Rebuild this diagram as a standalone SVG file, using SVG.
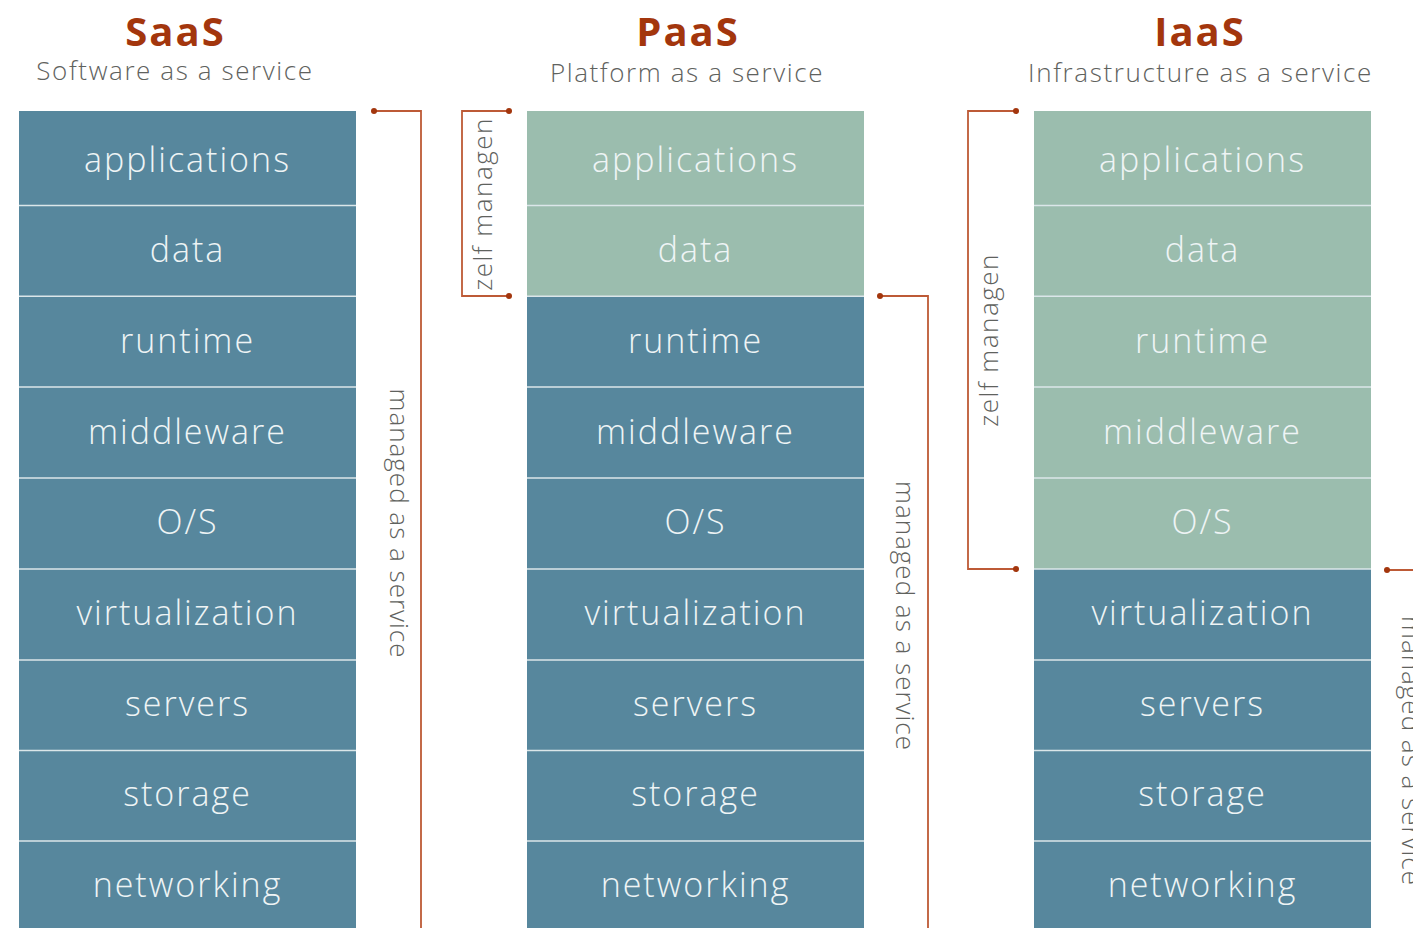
<svg xmlns="http://www.w3.org/2000/svg" width="1413" height="928" viewBox="0 0 1413 928">
  <style>
    .title { font-family: "Open Sans", "Noto Sans", sans-serif; font-weight: 700; font-size: 40px; fill: #a3360d; text-anchor: middle; letter-spacing: 2px; }
    .sub { font-family: "Open Sans", "Noto Sans", sans-serif; font-weight: 300; font-size: 26px; fill: #5f625e; text-anchor: middle; letter-spacing: 1.6px; }
    .cell rect { stroke: none; }
    .blue { fill: #57879d; }
    .green { fill: #9bbdae; }
    .lbl { font-family: "Open Sans", "Noto Sans", sans-serif; font-weight: 300; font-size: 34px; fill: #eef4f5; text-anchor: middle; letter-spacing: 2px; }
    .sep { stroke: #dbe6e9; stroke-width: 1.6; }
    .side { font-family: "Open Sans", "Noto Sans", sans-serif; font-weight: 300; font-size: 26px; fill: #5f625e; text-anchor: middle; letter-spacing: 1px; }
    .side.z { letter-spacing: 1.5px; }
    .brk { fill: none; stroke: #bd5a36; stroke-width: 1.8; }
    .dot { fill: #a3360d; }
  </style>

  <!-- column headers -->
  <g id="head-saas">
    <text class="title" x="175.5" y="46">SaaS</text>
    <text class="sub" x="175" y="80">Software as a service</text>
  </g>
  <g id="head-paas">
    <text class="title" x="688" y="46">PaaS</text>
    <text class="sub" x="687" y="82">Platform as a service</text>
  </g>
  <g id="head-iaas">
    <text class="title" x="1200" y="46">IaaS</text>
    <text class="sub" x="1200.5" y="82">Infrastructure as a service</text>
  </g>

  <!-- SaaS stack -->
  <g id="saas">
    <g id="saas-applications" class="cell"><rect class="blue" x="19" y="111" width="337" height="94.5"/><text class="lbl" x="187.5" y="172">applications</text></g>
    <g id="saas-data" class="cell"><rect class="blue" x="19" y="205.5" width="337" height="90.8"/><text class="lbl" x="187.5" y="262">data</text></g>
    <g id="saas-runtime" class="cell"><rect class="blue" x="19" y="296.3" width="337" height="90.7"/><text class="lbl" x="187.5" y="353">runtime</text></g>
    <g id="saas-middleware" class="cell"><rect class="blue" x="19" y="387" width="337" height="91"/><text class="lbl" x="187.5" y="443.5">middleware</text></g>
    <g id="saas-os" class="cell"><rect class="blue" x="19" y="478" width="337" height="91"/><text class="lbl" x="187.5" y="534">O/S</text></g>
    <g id="saas-virtualization" class="cell"><rect class="blue" x="19" y="569" width="337" height="91"/><text class="lbl" x="187.5" y="625">virtualization</text></g>
    <g id="saas-servers" class="cell"><rect class="blue" x="19" y="660" width="337" height="90.5"/><text class="lbl" x="187.5" y="716">servers</text></g>
    <g id="saas-storage" class="cell"><rect class="blue" x="19" y="750.5" width="337" height="90.5"/><text class="lbl" x="187.5" y="806">storage</text></g>
    <g id="saas-networking" class="cell"><rect class="blue" x="19" y="841" width="337" height="91"/><text class="lbl" x="187.5" y="897">networking</text></g>
  </g>

  <!-- PaaS stack -->
  <g id="paas">
    <g id="paas-applications" class="cell"><rect class="green" x="527" y="111" width="337" height="94.5"/><text class="lbl" x="695.5" y="172">applications</text></g>
    <g id="paas-data" class="cell"><rect class="green" x="527" y="205.5" width="337" height="90.8"/><text class="lbl" x="695.5" y="262">data</text></g>
    <g id="paas-runtime" class="cell"><rect class="blue" x="527" y="296.3" width="337" height="90.7"/><text class="lbl" x="695.5" y="353">runtime</text></g>
    <g id="paas-middleware" class="cell"><rect class="blue" x="527" y="387" width="337" height="91"/><text class="lbl" x="695.5" y="443.5">middleware</text></g>
    <g id="paas-os" class="cell"><rect class="blue" x="527" y="478" width="337" height="91"/><text class="lbl" x="695.5" y="534">O/S</text></g>
    <g id="paas-virtualization" class="cell"><rect class="blue" x="527" y="569" width="337" height="91"/><text class="lbl" x="695.5" y="625">virtualization</text></g>
    <g id="paas-servers" class="cell"><rect class="blue" x="527" y="660" width="337" height="90.5"/><text class="lbl" x="695.5" y="716">servers</text></g>
    <g id="paas-storage" class="cell"><rect class="blue" x="527" y="750.5" width="337" height="90.5"/><text class="lbl" x="695.5" y="806">storage</text></g>
    <g id="paas-networking" class="cell"><rect class="blue" x="527" y="841" width="337" height="91"/><text class="lbl" x="695.5" y="897">networking</text></g>
  </g>

  <!-- IaaS stack -->
  <g id="iaas">
    <g id="iaas-applications" class="cell"><rect class="green" x="1034" y="111" width="337" height="94.5"/><text class="lbl" x="1202.5" y="172">applications</text></g>
    <g id="iaas-data" class="cell"><rect class="green" x="1034" y="205.5" width="337" height="90.8"/><text class="lbl" x="1202.5" y="262">data</text></g>
    <g id="iaas-runtime" class="cell"><rect class="green" x="1034" y="296.3" width="337" height="90.7"/><text class="lbl" x="1202.5" y="353">runtime</text></g>
    <g id="iaas-middleware" class="cell"><rect class="green" x="1034" y="387" width="337" height="91"/><text class="lbl" x="1202.5" y="443.5">middleware</text></g>
    <g id="iaas-os" class="cell"><rect class="green" x="1034" y="478" width="337" height="91"/><text class="lbl" x="1202.5" y="534">O/S</text></g>
    <g id="iaas-virtualization" class="cell"><rect class="blue" x="1034" y="569" width="337" height="91"/><text class="lbl" x="1202.5" y="625">virtualization</text></g>
    <g id="iaas-servers" class="cell"><rect class="blue" x="1034" y="660" width="337" height="90.5"/><text class="lbl" x="1202.5" y="716">servers</text></g>
    <g id="iaas-storage" class="cell"><rect class="blue" x="1034" y="750.5" width="337" height="90.5"/><text class="lbl" x="1202.5" y="806">storage</text></g>
    <g id="iaas-networking" class="cell"><rect class="blue" x="1034" y="841" width="337" height="91"/><text class="lbl" x="1202.5" y="897">networking</text></g>
  </g>

  <!-- thin separators between layers -->
  <g id="separators">
    <path class="sep" d="M19 205.5H356M19 296.3H356M19 387H356M19 478H356M19 569H356M19 660H356M19 750.5H356M19 841H356"/>
    <path class="sep" d="M527 205.5H864M527 296.3H864M527 387H864M527 478H864M527 569H864M527 660H864M527 750.5H864M527 841H864"/>
    <path class="sep" d="M1034 205.5H1371M1034 296.3H1371M1034 387H1371M1034 478H1371M1034 569H1371M1034 660H1371M1034 750.5H1371M1034 841H1371"/>
  </g>

  <!-- brackets -->
  <g id="connectors">
    <path class="brk" d="M374 111H421V930"/>
    <circle class="dot" cx="374" cy="111" r="3"/>

    <path class="brk" d="M509 111H462V296H509"/>
    <circle class="dot" cx="509" cy="111" r="3"/>
    <circle class="dot" cx="509" cy="296" r="3"/>

    <path class="brk" d="M880 296H928V930"/>
    <circle class="dot" cx="880" cy="296" r="3"/>

    <path class="brk" d="M1016 111H968V569H1016"/>
    <circle class="dot" cx="1016" cy="111" r="3"/>
    <circle class="dot" cx="1016" cy="569" r="3"/>

    <path class="brk" d="M1387 570H1420"/>
    <circle class="dot" cx="1387" cy="570" r="3"/>
  </g>

  <!-- bracket labels -->
  <g id="labels">
    <text class="side" transform="translate(390 523.5) rotate(90)">managed as a service</text>
    <text class="side z" transform="translate(492 204) rotate(-90)">zelf managen</text>
    <text class="side" transform="translate(896 616) rotate(90)">managed as a service</text>
    <text class="side z" transform="translate(998 340) rotate(-90)">zelf managen</text>
    <text class="side" transform="translate(1402 751) rotate(90)">managed as a service</text>
  </g>
</svg>
